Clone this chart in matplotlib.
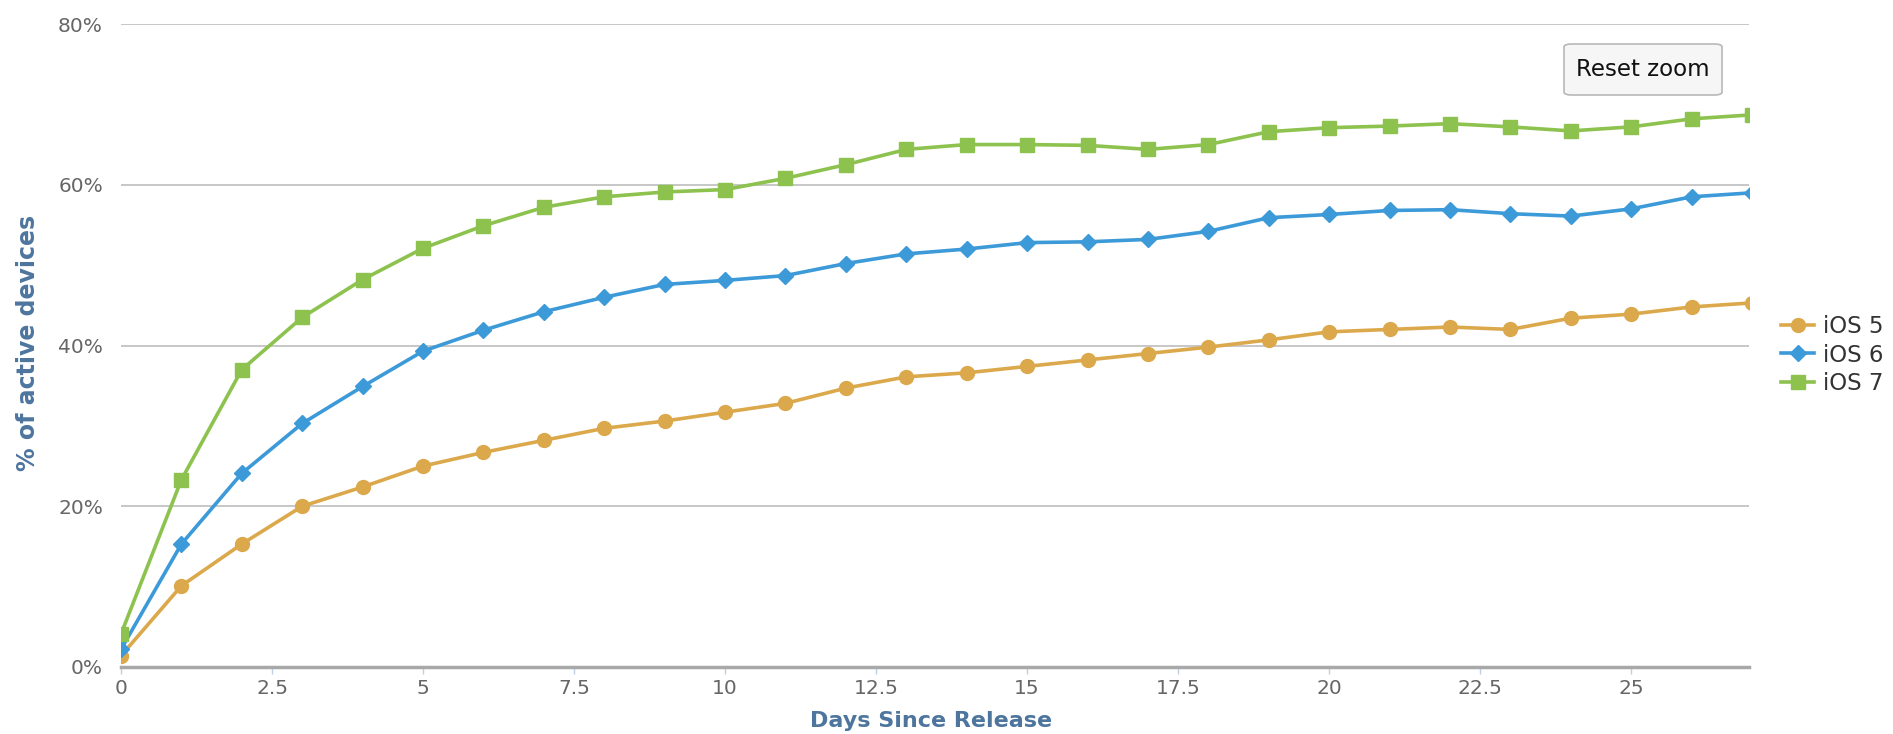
import numpy as np
import matplotlib
matplotlib.use("Agg")
import matplotlib.pyplot as plt
from matplotlib.patches import FancyBboxPatch

days = list(range(28))

ios5 = [1.4, 10.1, 15.3, 20.0, 22.4, 25.0, 26.7, 28.2, 29.7, 30.6,
        31.7, 32.8, 34.7, 36.1, 36.6, 37.4, 38.2, 39.0, 39.8, 40.7,
        41.7, 42.0, 42.3, 42.0, 43.4, 43.9, 44.8, 45.3]
ios6 = [2.2, 15.3, 24.1, 30.3, 34.9, 39.3, 41.9, 44.2, 46.0, 47.6,
        48.1, 48.7, 50.2, 51.4, 52.0, 52.8, 52.9, 53.2, 54.2, 55.9,
        56.3, 56.8, 56.9, 56.4, 56.1, 57.0, 58.5, 59.0]
ios7 = [4.1, 23.3, 37.0, 43.5, 48.2, 52.1, 54.9, 57.2, 58.5, 59.1,
        59.4, 60.8, 62.5, 64.4, 65.0, 65.0, 64.9, 64.4, 65.0, 66.6,
        67.1, 67.3, 67.6, 67.2, 66.7, 67.2, 68.2, 68.7]

series_names = ["iOS 5", "iOS 6", "iOS 7"]
x_ticks = [0, 2.5, 5, 7.5, 10, 12.5, 15, 17.5, 20, 22.5, 25]
x_tick_labels = ["0", "2.5", "5", "7.5", "10", "12.5", "15", "17.5", "20", "22.5", "25"]
y_ticks = [0, 20, 40, 60, 80]
y_tick_labels = ["0%", "20%", "40%", "60%", "80%"]

plt.rcParams["font.family"] = ["DejaVu Sans"]

W, H = 1893, 734
fig = plt.figure(figsize=(W / 100, H / 100), dpi=100)
ax = fig.add_axes([121 / W, 67 / H, (1749 - 121) / W, (667 - 24) / H])

colors = ["#DBA94B", "#3D9AD8", "#8DC24F"]
markers = ["o", "D", "s"]
msizes = [10, 8, 10]
for vals, name, c, m, ms in zip([ios5, ios6, ios7], series_names, colors, markers, msizes):
    ax.plot(days, vals, color=c, lw=2.6, marker=m, ms=ms, mec=c, label=name,
            clip_on=True, zorder=3)

ax.set_xlim(0, 26.95)
ax.set_ylim(0, 80)
ax.set_xticks(x_ticks)
ax.set_xticklabels(x_tick_labels)
ax.set_yticks(y_ticks)
ax.set_yticklabels(y_tick_labels)
ax.tick_params(axis="x", colors="#C0D0E0", length=5, width=1, labelcolor="#666666",
               labelsize=14.5, pad=4)
ax.tick_params(axis="y", length=0, labelcolor="#666666", labelsize=14.5, pad=13)
ax.grid(axis="y", color="#BDBDBD", lw=1.2)
ax.set_axisbelow(True)
for side in ["top", "right", "left"]:
    ax.spines[side].set_visible(False)
ax.spines["bottom"].set_color("#A8A8A8")
ax.spines["bottom"].set_linewidth(2.5)
ax.spines["bottom"].set_zorder(4)

ax.set_xlabel("Days Since Release", color="#4D759E", fontsize=16, fontweight="bold",
              va="center")
ax.xaxis.set_label_coords(0.4975, -0.084)
ax.set_ylabel("% of active devices", color="#4D759E", fontsize=17, fontweight="bold",
              va="center")
ax.yaxis.set_label_coords(-0.057, 0.504)

fig.legend(loc="center left", bbox_to_anchor=(1781 / W, 1 - 355 / H), frameon=False,
           fontsize=16.5, handlelength=1.45, handletextpad=0.4, labelspacing=0.25,
           borderpad=0, borderaxespad=0, labelcolor="#333333")

# Reset zoom button
btn = FancyBboxPatch((1564 / W, 1 - 95 / H), 158 / W, 51 / H,
                     boxstyle="round,pad=0,rounding_size=0.004",
                     transform=fig.transFigure, facecolor="#F6F6F6",
                     edgecolor="#B8B8B8", lw=1.2)
fig.patches.append(btn)
fig.text(1643 / W, 1 - 70 / H, "Reset zoom", ha="center", va="center",
         fontsize=16.5, color="#111111")

fig.savefig("out.png", dpi=100, facecolor="white")
